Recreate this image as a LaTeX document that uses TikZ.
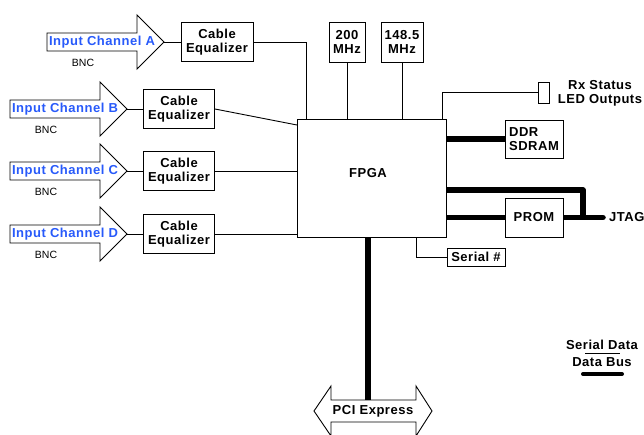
\documentclass[tikz,border=0pt]{standalone}
\usepackage{fontspec}
\setmainfont{Liberation Sans}
\newfontfamily\espacada[LetterSpace=4]{Liberation Sans}
\definecolor{azulcanal}{RGB}{40,90,250}
\begin{document}
\begin{tikzpicture}[x=1pt,y=-1pt, %Escala em pixels
	fio/.style={line width=0.9pt},
	barramento/.style={line width=5.5pt},
	caixa/.style={draw, line width=0.9pt, fill=white, inner sep=0pt, align=center, font=\espacada\bfseries\fontsize{13}{14}\selectfont},
	rotulo/.style={inner sep=0pt, align=center, font=\espacada\bfseries\fontsize{13}{14}\selectfont},
	canal/.style={inner sep=0pt, text=azulcanal, font=\espacada\bfseries\fontsize{13}{14}\selectfont},
	bnc/.style={inner sep=0pt, font=\fontsize{10.5}{11}\selectfont}]
	\useasboundingbox (0,0) rectangle (644,434); %Margens
					%Entradas
	\foreach \ch/\x/\y in {A/47/42, B/10/109, C/10/171, D/10/234}{
		\draw[fio] (\x,\y-9) -- (\x+90,\y-9) -- (\x+90,\y-27) -- (\x+117,\y) -- (\x+90,\y+27) -- (\x+90,\y+9) -- (\x,\y+9) -- cycle;
		\node[canal] (txt\ch) at (\x+55,\y) {Input Channel \ch};
		\node[bnc] (bnc\ch) at (\x+36,\y+21) {BNC};
		\coordinate (in\ch) at (\x+117,\y);
	}
					%Equalizadores
	\node[caixa, minimum width=72, minimum height=39] (eqA) at (217,42) {Cable\\Equalizer};
	\node[caixa, minimum width=71, minimum height=39] (eqB) at (179,109) {Cable\\Equalizer};
	\node[caixa, minimum width=71, minimum height=39] (eqC) at (179,171) {Cable\\Equalizer};
	\node[caixa, minimum width=71, minimum height=39] (eqD) at (179,234) {Cable\\Equalizer};
	\draw[fio] (inA) -- (eqA);
	\draw[fio] (inB) -- (eqB);
	\draw[fio] (inC) -- (eqC);
	\draw[fio] (inD) -- (eqD);
					%FPGA e relogios
	\node[caixa, minimum width=149, minimum height=118] (fpga) at (371.5,178) {};
	\node[rotulo] (fpgaTxt) at (368,173) {FPGA};
	\node[caixa, minimum width=36, minimum height=40] (clkA) at (347,42) {200\\MHz};
	\node[caixa, minimum width=42, minimum height=40] (clkB) at (402,42) {148.5\\MHz};
	\draw[fio] (eqA.east) -| (306,119);
	\draw[fio] (eqB.east) -- (297,125);
	\draw[fio] (eqC.east) -- (eqC -| fpga.west);
	\draw[fio] (eqD.east) -- (eqD -| fpga.west);
	\draw[fio] (clkA) -- (clkA |- fpga.north);
	\draw[fio] (clkB) -- (clkB |- fpga.north);
					%LEDs
	\node[draw, fio, minimum width=11, minimum height=21, inner sep=0pt] (led) at (543.5,92.5) {};
	\node[rotulo] (ledTxt) at (600,93) {Rx Status\\LED Outputs};
	\draw[fio] (led.west) -| (442,119);
					%Memorias
	\node[caixa, minimum width=58, minimum height=38, align=left] (ddr) at (534,139) {DDR\\SDRAM};
	\node[caixa, minimum width=58, minimum height=39] (prom) at (534,217.5) {PROM};
	\coordinate (jtagCanto) at (583,190);
	\coordinate (jtagJunta) at (583,217.5);
	\coordinate (jtag) at (603,217.5);
	\draw[barramento] (fpga.east |- ddr) -- (ddr.west);
	\draw[barramento] (fpga.east |- prom) -- (prom.west);
	\draw[barramento, line join=round] (fpga.east |- jtagCanto) -- (jtagCanto) -- (jtagJunta);
	\draw[barramento] (prom.east) -- (jtagJunta);
	\draw[barramento, line cap=round] (jtagJunta) -- (jtag);
	\node[rotulo, anchor=west] (jtagTxt) at (609,217.5) {JTAG};
					%Numero de serie
	\node[caixa, minimum width=58, minimum height=18] (serie) at (476,257) {Serial \#};
	\draw[fio] (416,237) |- (serie.west);
					%PCI Express
	\coordinate (pci) at (368,400);
	\draw[barramento] (fpga.south -| pci) -- (pci);
	\draw[fio] (314,411) -- (331,386) -- (331,400) -- (416,400) -- (416,386) -- (432,411) -- (416,436) -- (416,422) -- (331,422) -- (331,436) -- cycle;
	\node[rotulo] (pciTxt) at (373,411) {PCI Express};
					%Legenda
	\node[rotulo] (legSerie) at (602,345) {Serial Data};
	\node[rotulo] (legBus) at (602,362) {Data Bus};
	\draw[fio] (585,353.5) -- (620,353.5);
	\draw[line width=4pt, line cap=round] (583,374) -- (622,374);
\end{tikzpicture}
\end{document}
